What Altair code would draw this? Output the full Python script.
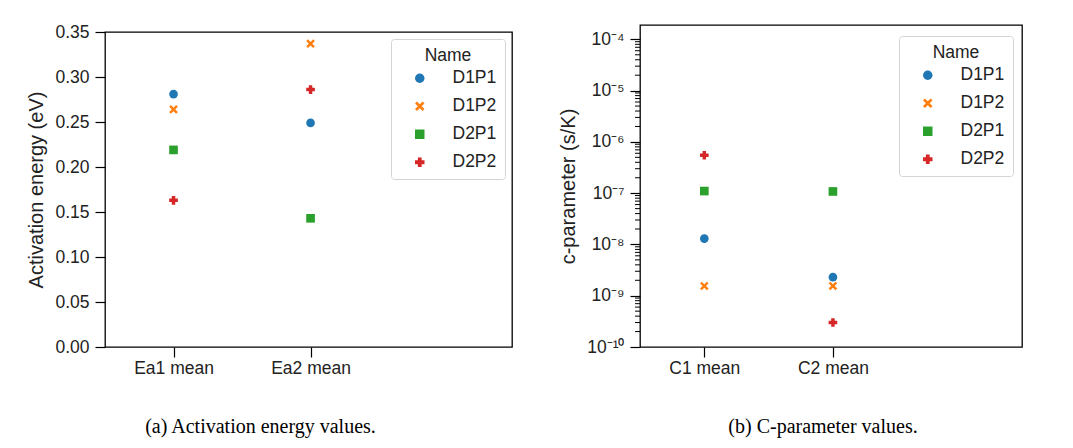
import altair as alt
import pandas as pd

# Series names and their colours / marker shapes
names = ["D1P1", "D1P2", "D2P1", "D2P2"]
colors = ["#1f77b4", "#ff7f0e", "#2ca02c", "#d62728"]
X_PATH = "M0,-0.4L0.6,-1L1,-0.6L0.4,0L1,0.6L0.6,1L0,0.4L-0.6,1L-1,0.6L-0.4,0L-1,-0.6L-0.6,-1Z"
shapes = ["circle", X_PATH, "square", "cross"]

# (a) activation energies (eV)
ea_labels = ["Ea1 mean", "Ea2 mean"]
ea1_mean = [0.281, 0.264, 0.219, 0.163]
ea2_mean = [0.249, 0.337, 0.143, 0.286]
ea_ticks = [0.0, 0.05, 0.10, 0.15, 0.20, 0.25, 0.30, 0.35]

# (b) c-parameters (s/K)
c_labels = ["C1 mean", "C2 mean"]
c1_mean = [1.3e-8, 1.55e-9, 1.1e-7, 5.5e-7]
c2_mean = [2.3e-9, 1.55e-9, 1.08e-7, 3.0e-10]
c_ticks = [1e-10, 1e-9, 1e-8, 1e-7, 1e-6, 1e-5, 1e-4]
c_tick_labels = ["10⁻¹⁰", "10⁻⁹", "10⁻⁸", "10⁻⁷", "10⁻⁶", "10⁻⁵", "10⁻⁴"]
c_minor = [m * 10.0 ** e for e in range(-10, -4) for m in range(2, 10)]

FONT = "Liberation Sans"
SERIF = "Liberation Serif"
TICK_FS = 17.5
TITLE_FS = 20
MARK_SIZE = 75
TICK = 10
LPAD = 6


def long_table(labels, series_a, series_b):
    rows = []
    for pos, vals in enumerate([series_a, series_b]):
        for n, v in zip(names, vals):
            rows.append({"pos": pos, "stat": labels[pos], "Name": n, "value": v})
    return pd.DataFrame(rows)


def x_enc(labels):
    expr = "[" + ",".join("'%s'" % s for s in labels) + "][datum.value]"
    return alt.X(
        "pos:Q",
        scale=alt.Scale(domain=[-0.5, 2.47], nice=False, zero=False),
        axis=alt.Axis(values=[0, 1], labelExpr=expr, title=None, grid=False,
                      domain=False, tickSize=TICK, labelPadding=2),
    )


def legend(lx, ly):
    return alt.Legend(
        title="Name", orient="none", legendX=lx, legendY=ly,
        titleAnchor="middle", titleFontWeight="normal", titleFontSize=TICK_FS,
        titleFont=FONT, labelFont=FONT, labelFontSize=TICK_FS, labelColor="#222",
        titleColor="#222", symbolSize=90, symbolStrokeWidth=0, labelOffset=24,
        symbolOffset=12, rowPadding=9, padding=8, fillColor="white",
        strokeColor="#d4d4d4", cornerRadius=3,
    )


def enc_common(lx, ly):
    return dict(
        color=alt.Color("Name:N", scale=alt.Scale(domain=names, range=colors),
                        legend=legend(lx, ly)),
        shape=alt.Shape("Name:N", scale=alt.Scale(domain=names, range=shapes),
                        legend=legend(lx, ly)),
    )


df_a = long_table(ea_labels, ea1_mean, ea2_mean)
df_b = long_table(c_labels, c1_mean, c2_mean)

left = alt.Chart(df_a).mark_point(filled=True, size=MARK_SIZE, opacity=1).encode(
    x=x_enc(ea_labels),
    y=alt.Y("value:Q", scale=alt.Scale(domain=[0, 0.35], nice=False),
            axis=alt.Axis(values=ea_ticks, format=".2f", title="Activation energy (eV)",
                          grid=False, domain=False, tickSize=TICK, labelPadding=LPAD,
                          titlePadding=8)),
    **enc_common(286, 14),
).properties(
    width=407, height=315,
    title=alt.TitleParams("(a) Activation energy values.", orient="bottom",
                          anchor="middle", frame="group", font=SERIF, fontSize=20,
                          fontWeight="normal", color="black", offset=40, dx=-48),
)

# empty strip above panel (a) so that its frame starts a little lower than panel (b)
top_gap = alt.Chart(pd.DataFrame({"s": [0]})).mark_point(opacity=0).encode(
    x=alt.value(0), y=alt.value(0),
).properties(width=407, height=7, view=alt.ViewBackground(stroke="transparent"))

left_col = alt.vconcat(top_gap, left, spacing=0, bounds="flush")

c_scale = alt.Scale(type="log", domain=[1e-10, 1.905e-4], nice=False)
c_expr = "[" + ",".join("'%s'" % s for s in c_tick_labels) + "][round(log(datum.value)/LN10)+10]"
c_axis = alt.Axis(values=c_ticks, labelExpr=c_expr, title="c-parameter (s/K)",
                  grid=False, domain=False, tickSize=TICK, labelPadding=LPAD,
                  titlePadding=8, labelOverlap=False)

c_points = alt.Chart(df_b).mark_point(filled=True, size=MARK_SIZE, opacity=1).encode(
    x=x_enc(c_labels),
    y=alt.Y("value:Q", scale=c_scale, axis=c_axis),
    **enc_common(259, 11),
)

# shorter minor ticks between the decades of the log axis
c_minor_ticks = alt.Chart(pd.DataFrame({"value": c_minor})).mark_rule(
    color="black", strokeWidth=1
).encode(
    y=alt.Y("value:Q", scale=c_scale, axis=c_axis),
    x=alt.value(0), x2=alt.value(-5),
)

right = alt.layer(c_points, c_minor_ticks).properties(
    width=382, height=322,
    title=alt.TitleParams("(b) C-parameter values.", orient="bottom",
                          anchor="middle", frame="group", font=SERIF, fontSize=20,
                          fontWeight="normal", color="black", offset=40, dx=-8),
)

chart = alt.hconcat(left_col, right, spacing=45).resolve_scale(
    color="independent", shape="independent"
).resolve_legend(
    color="independent", shape="independent"
).properties(
    padding={"left": 26, "top": 21, "right": 0, "bottom": 0},
    background="white",
).configure_view(
    stroke="black", strokeWidth=1.3
).configure_axis(
    labelFont=FONT, labelFontSize=TICK_FS, labelColor="#222",
    titleFont=FONT, titleFontSize=TITLE_FS, titleFontWeight="normal", titleColor="#222",
    tickColor="black", tickWidth=1.2,
)

chart.save("out.html", embed_options={"renderer": "svg", "actions": False})
